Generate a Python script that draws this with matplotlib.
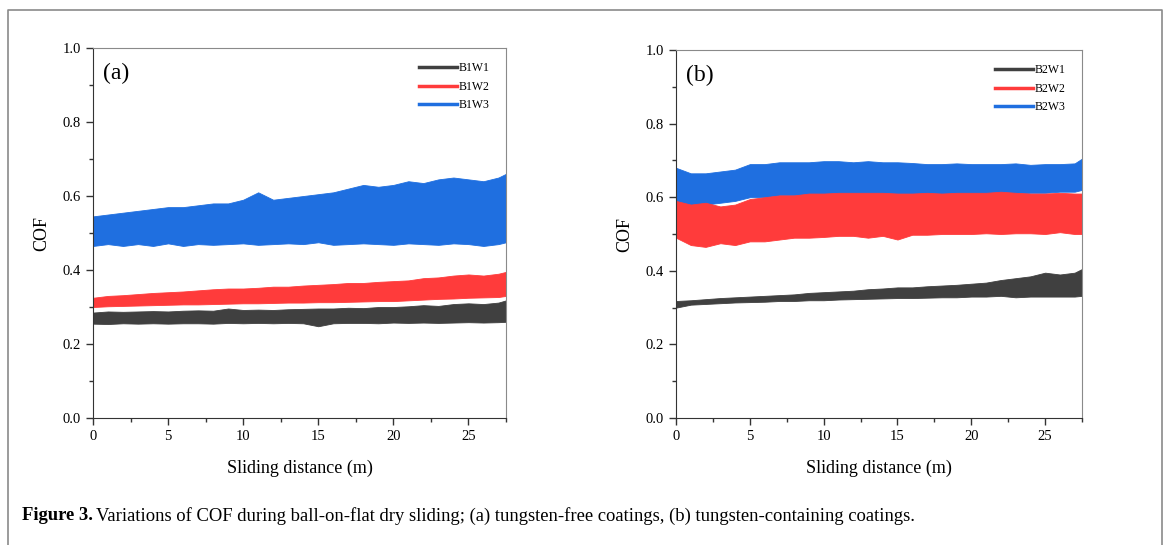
import matplotlib
matplotlib.use("Agg")
import matplotlib.pyplot as plt
from matplotlib.ticker import MultipleLocator
from matplotlib.lines import Line2D

plt.rcParams["font.family"] = ["Liberation Serif", "DejaVu Serif"]

# ─── Data: COF band envelopes (lower / upper) ─────────────────────────────────
dist = [0, 1, 2, 3, 4, 5, 6, 7, 8, 9, 10, 11, 12, 13, 14, 15, 16, 17, 18, 19,
        20, 21, 22, 23, 24, 25, 26, 27, 27.5]

b1w1_lo = [0.255, 0.254, 0.256, 0.255, 0.256, 0.255, 0.256, 0.256, 0.255, 0.257,
           0.256, 0.257, 0.256, 0.257, 0.256, 0.248, 0.256, 0.257, 0.257, 0.256,
           0.258, 0.257, 0.258, 0.257, 0.258, 0.259, 0.258, 0.259, 0.260]
b1w1_hi = [0.285, 0.288, 0.287, 0.288, 0.289, 0.288, 0.290, 0.291, 0.290, 0.296,
           0.292, 0.293, 0.292, 0.294, 0.295, 0.296, 0.296, 0.298, 0.297, 0.300,
           0.300, 0.302, 0.305, 0.303, 0.308, 0.310, 0.308, 0.312, 0.318]
b1w2_lo = [0.300, 0.302, 0.303, 0.304, 0.305, 0.306, 0.307, 0.307, 0.308, 0.309,
           0.310, 0.310, 0.311, 0.312, 0.312, 0.313, 0.313, 0.314, 0.315, 0.316,
           0.316, 0.318, 0.320, 0.322, 0.323, 0.325, 0.326, 0.327, 0.330]
b1w2_hi = [0.325, 0.330, 0.332, 0.335, 0.338, 0.340, 0.342, 0.345, 0.348, 0.350,
           0.350, 0.352, 0.355, 0.355, 0.358, 0.360, 0.362, 0.365, 0.365, 0.368,
           0.370, 0.372, 0.378, 0.380, 0.385, 0.388, 0.385, 0.390, 0.395]
b1w3_lo = [0.465, 0.470, 0.465, 0.470, 0.465, 0.472, 0.465, 0.470, 0.468, 0.470,
           0.472, 0.468, 0.470, 0.472, 0.470, 0.475, 0.468, 0.470, 0.472, 0.470,
           0.468, 0.472, 0.470, 0.468, 0.472, 0.470, 0.465, 0.470, 0.475]
b1w3_hi = [0.545, 0.550, 0.555, 0.560, 0.565, 0.570, 0.570, 0.575, 0.580, 0.580,
           0.590, 0.610, 0.590, 0.595, 0.600, 0.605, 0.610, 0.620, 0.630, 0.625,
           0.630, 0.640, 0.635, 0.645, 0.650, 0.645, 0.640, 0.650, 0.660]

b2w1_lo = [0.300, 0.308, 0.310, 0.312, 0.314, 0.315, 0.316, 0.318, 0.318, 0.320,
           0.320, 0.322, 0.323, 0.324, 0.325, 0.326, 0.326, 0.327, 0.328, 0.328,
           0.330, 0.330, 0.332, 0.328, 0.330, 0.330, 0.330, 0.330, 0.332]
b2w1_hi = [0.318, 0.320, 0.323, 0.326, 0.328, 0.330, 0.332, 0.334, 0.336, 0.340,
           0.342, 0.344, 0.346, 0.350, 0.352, 0.355, 0.355, 0.358, 0.360, 0.362,
           0.365, 0.368, 0.375, 0.380, 0.385, 0.395, 0.390, 0.395, 0.405]
b2w2_lo = [0.490, 0.470, 0.465, 0.475, 0.470, 0.480, 0.480, 0.485, 0.490, 0.490,
           0.492, 0.495, 0.495, 0.490, 0.495, 0.485, 0.498, 0.498, 0.500, 0.500,
           0.500, 0.502, 0.500, 0.502, 0.502, 0.500, 0.505, 0.500, 0.500]
b2w2_hi = [0.590, 0.580, 0.585, 0.575, 0.580, 0.595, 0.600, 0.605, 0.605, 0.610,
           0.610, 0.612, 0.612, 0.612, 0.612, 0.610, 0.610, 0.612, 0.610, 0.612,
           0.612, 0.612, 0.615, 0.612, 0.610, 0.610, 0.612, 0.610, 0.610]
b2w3_lo = [0.580, 0.575, 0.580, 0.585, 0.590, 0.600, 0.600, 0.605, 0.605, 0.605,
           0.608, 0.608, 0.608, 0.610, 0.610, 0.610, 0.610, 0.610, 0.610, 0.610,
           0.610, 0.610, 0.610, 0.610, 0.612, 0.612, 0.615, 0.615, 0.620]
b2w3_hi = [0.680, 0.665, 0.665, 0.670, 0.675, 0.690, 0.690, 0.695, 0.695, 0.695,
           0.698, 0.698, 0.695, 0.698, 0.695, 0.695, 0.693, 0.690, 0.690, 0.692,
           0.690, 0.690, 0.690, 0.692, 0.688, 0.690, 0.690, 0.692, 0.705]

labels_a = ["B1W1", "B1W2", "B1W3"]
labels_b = ["B2W1", "B2W2", "B2W3"]

COLORS = ["#404040", "#ff3b3b", "#1f6fe0"]


def draw_panel(ax, bands, labels, tag, order):
    for i in order:
        lo, hi = bands[i]
        ax.fill_between(dist, lo, hi, color=COLORS[i], lw=0.6, edgecolor=COLORS[i])

    ax.set_xlim(0, 27.5)
    ax.set_ylim(0, 1.0)
    ax.xaxis.set_major_locator(MultipleLocator(5))
    ax.xaxis.set_minor_locator(MultipleLocator(2.5))
    ax.yaxis.set_major_locator(MultipleLocator(0.2))
    ax.yaxis.set_minor_locator(MultipleLocator(0.1))
    ax.yaxis.set_major_formatter(lambda v, p: f"{v:.1f}")
    ax.tick_params(which="major", direction="out", length=5, width=1,
                   labelsize=10.5, color="#333")
    ax.tick_params(which="minor", direction="out", length=3, width=1, color="#333")
    ax.tick_params(top=False, right=False)
    for s in ("left", "bottom"):
        ax.spines[s].set_color("#333")
    for s in ("top", "right"):
        ax.spines[s].set_color("#8a8a8a")

    ax.set_xlabel("Sliding distance (m)", fontsize=13, labelpad=12)
    ax.set_ylabel("COF", fontsize=13, labelpad=9)
    ax.text(0.025, 0.96, tag, transform=ax.transAxes, fontsize=17,
            ha="left", va="top")

    handles = [Line2D([], [], color=c, lw=2.5) for c in COLORS]
    ax.legend(handles, labels, loc="upper right", bbox_to_anchor=(0.985, 0.99),
              frameon=False, fontsize=8.5, handlelength=3.2, handletextpad=0.15,
              labelspacing=0.55)


fig = plt.figure(figsize=(11.68, 5.45), dpi=100)
ax_a = fig.add_axes([0.0796, 0.2330, 0.3536, 0.6789])
ax_b = fig.add_axes([0.5788, 0.2330, 0.3476, 0.6752])

draw_panel(ax_a, [(b1w1_lo, b1w1_hi), (b1w2_lo, b1w2_hi), (b1w3_lo, b1w3_hi)],
           labels_a, "(a)", order=[0, 1, 2])
draw_panel(ax_b, [(b2w1_lo, b2w1_hi), (b2w2_lo, b2w2_hi), (b2w3_lo, b2w3_hi)],
           labels_b, "(b)", order=[0, 2, 1])

# ─── Outer frame and caption ──────────────────────────────────────────────────
W, H = 1168, 545
frame_x = [8 / W, 8 / W, 1162 / W, 1162 / W]
frame_y = [-0.01, 1 - 10 / H, 1 - 10 / H, -0.01]
fig.add_artist(Line2D(frame_x, frame_y, color="#8a8a8a", lw=1.2,
                      transform=fig.transFigure))

t1 = fig.text(22 / W, 1 - 516 / H, "Figure 3.", fontsize=13.4,
              fontweight="bold", va="center", ha="left")
fig.canvas.draw()
bb = t1.get_window_extent()
fig.text((bb.x1 + 3) / W, 1 - 516 / H,
         "Variations of COF during ball-on-flat dry sliding; (a) tungsten-free "
         "coatings, (b) tungsten-containing coatings.",
         fontsize=13.4, va="center", ha="left")

fig.savefig("out.png", dpi=100)
